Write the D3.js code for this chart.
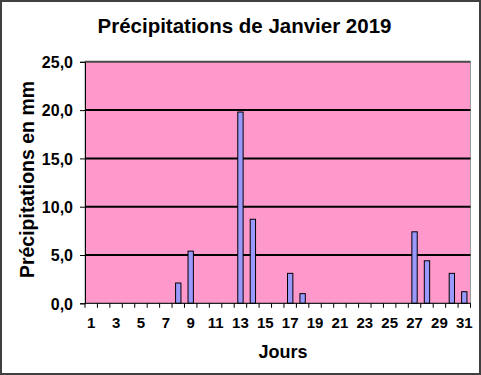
<!DOCTYPE html>
<html><head><meta charset="utf-8">
<script src="https://cdn.jsdelivr.net/npm/d3@7"></script>
<style>body{margin:0;background:#fff}svg{display:block}text{font-family:"Liberation Sans",Arial,sans-serif;font-weight:bold;fill:#000}</style>
</head><body>
<script>
const days = d3.range(1, 32);
const precip = [0,0,0,0,0,0,0,2.1,5.4,0,0,0,19.8,8.7,0,0,3.1,1.0,0,0,0,0,0,0,0,0,7.4,4.4,0,3.1,1.2];
const yTicks = [0,5,10,15,20,25];
const title = "Précipitations de Janvier 2019";
const yTitle = "Précipitations en mm";
const xTitle = "Jours";

const W = 481, H = 375;
const plot = {l:85, r:470.5, t:61.8, b:303.3};
const svg = d3.select("body").append("svg").attr("width", W).attr("height", H);

// outer frame
svg.append("rect").attr("x",1).attr("y",1).attr("width",479).attr("height",373)
  .attr("fill","#fff").attr("stroke","#404040").attr("stroke-width",2);

const x = d3.scaleBand().domain(days).range([plot.l, plot.r]).paddingInner(0.57).paddingOuter(0.285);
const y = d3.scaleLinear().domain([0,25]).range([plot.b, plot.t]);

// plot background
svg.append("rect").attr("x",plot.l).attr("y",plot.t).attr("width",plot.r-plot.l).attr("height",plot.b-plot.t)
  .attr("fill","#FF99CC").attr("stroke","#9a9a9a").attr("stroke-width",1);

// gridlines
svg.append("g").selectAll("line").data(yTicks.filter(v=>v>0)).join("line")
  .attr("x1",plot.l).attr("x2",plot.r).attr("y1",d=>y(d)).attr("y2",d=>y(d))
  .attr("stroke",d=>d===25?"#4a4a4a":"#000").attr("stroke-width",2);

// bars
svg.append("g").selectAll("rect").data(days.map((d,i)=>({d, v:precip[i]})).filter(o=>o.v>0)).join("rect")
  .attr("x",o=>x(o.d)).attr("width",x.bandwidth())
  .attr("y",o=>y(o.v)).attr("height",o=>y(0)-y(o.v))
  .attr("fill","#9999FF").attr("stroke","#000").attr("stroke-width",1);

// y axis
const yAxis = d3.axisLeft(y).tickValues(yTicks).tickSize(5).tickPadding(7)
  .tickFormat(d=>d3.format(".1f")(d).replace(".",","));
const gy = svg.append("g").attr("transform",`translate(${plot.l},0)`).call(yAxis);
gy.select(".domain").attr("stroke","#000");
gy.selectAll(".tick line").attr("stroke","#000");
gy.selectAll("text").style("font-size","16px").attr("font-family",null).attr("fill","#000").attr("dy","0.36em");

// x axis: ticks at band boundaries
const step = x.step();
const bounds = d3.range(0, days.length+1).map(i => plot.l + i*step);
svg.append("g").selectAll("line").data(bounds).join("line")
  .attr("x1",d=>d).attr("x2",d=>d).attr("y1",plot.b).attr("y2",plot.b+4.5)
  .attr("stroke","#000").attr("stroke-width",1);
svg.append("line").attr("x1",plot.l).attr("x2",plot.r).attr("y1",plot.b).attr("y2",plot.b)
  .attr("stroke","#000").attr("stroke-width",1);
svg.append("g").selectAll("text").data(days.filter(d=>d%2===1)).join("text")
  .attr("x",d=>x(d)+x.bandwidth()/2).attr("y",327.5).attr("text-anchor","middle")
  .style("font-size","15px").text(d=>d);

// titles
svg.append("text").attr("x",244.5).attr("y",33).attr("text-anchor","middle").style("font-size","20.5px").text(title);
svg.append("text").attr("transform","translate(33.5,179.5) rotate(-90)").attr("text-anchor","middle").style("font-size","19.5px").text(yTitle);
svg.append("text").attr("x",283).attr("y",358).attr("text-anchor","middle").style("font-size","18px").text(xTitle);
</script>
</body></html>
